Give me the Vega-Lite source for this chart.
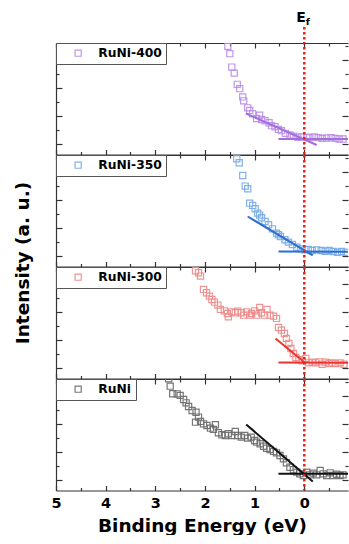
{
  "$schema": "https://vega.github.io/schema/vega-lite/v6.json",
  "padding": {"left": 13, "top": 10, "right": 0, "bottom": 0},
  "config": {"view": {"stroke": null}, "axis": {"grid": false}, "font": "DejaVu Sans"},
  "spacing": 0,
  "bounds": "flush",
  "resolve": {"scale": {"color": "independent"}, "legend": {"color": "independent"}},
  "datasets": {
    "ef": [{"energy": 0, "label": "E", "sub": "f"}],
    "fits": [
      {"s": "RuNi-400", "x": 1.18, "y": 2.21, "x2": -0.25, "y2": -0.04},
      {"s": "RuNi-400", "x": 0.52, "y": 0.39, "x2": -0.9, "y2": 0.39},
      {"s": "RuNi-350", "x": 1.14, "y": 2.85, "x2": -0.17, "y2": 0.07},
      {"s": "RuNi-350", "x": 0.52, "y": 0.35, "x2": -0.9, "y2": 0.33},
      {"s": "RuNi-300", "x": 0.58, "y": 2.14, "x2": -0.02, "y2": 0.38},
      {"s": "RuNi-300", "x": 0.52, "y": 0.42, "x2": -0.9, "y2": 0.4},
      {"s": "RuNi", "x": 1.17, "y": 3.99, "x2": -0.17, "y2": -0.08},
      {"s": "RuNi", "x": 0.52, "y": 0.47, "x2": -0.9, "y2": 0.47}
    ],
    "pts": [
      {"s": "RuNi-400", "x": 1.54, "y": 7.0},
      {"s": "RuNi-400", "x": 1.5, "y": 6.48},
      {"s": "RuNi-400", "x": 1.46, "y": 5.52},
      {"s": "RuNi-400", "x": 1.41, "y": 5.09},
      {"s": "RuNi-400", "x": 1.35, "y": 4.29},
      {"s": "RuNi-400", "x": 1.3, "y": 3.98},
      {"s": "RuNi-400", "x": 1.24, "y": 3.39},
      {"s": "RuNi-400", "x": 1.22, "y": 3.11},
      {"s": "RuNi-400", "x": 1.14, "y": 2.61},
      {"s": "RuNi-400", "x": 1.1, "y": 2.42},
      {"s": "RuNi-400", "x": 1.04, "y": 2.19},
      {"s": "RuNi-400", "x": 0.96, "y": 1.85},
      {"s": "RuNi-400", "x": 0.9, "y": 2.09},
      {"s": "RuNi-400", "x": 0.86, "y": 1.78},
      {"s": "RuNi-400", "x": 0.79, "y": 1.69},
      {"s": "RuNi-400", "x": 0.71, "y": 1.55},
      {"s": "RuNi-400", "x": 0.66, "y": 1.34},
      {"s": "RuNi-400", "x": 0.59, "y": 1.26},
      {"s": "RuNi-400", "x": 0.52, "y": 1.07},
      {"s": "RuNi-400", "x": 0.46, "y": 0.98},
      {"s": "RuNi-400", "x": 0.38, "y": 0.79},
      {"s": "RuNi-400", "x": 0.29, "y": 0.67},
      {"s": "RuNi-400", "x": 0.22, "y": 0.58},
      {"s": "RuNi-400", "x": 0.13, "y": 0.51},
      {"s": "RuNi-400", "x": 0.05, "y": 0.53},
      {"s": "RuNi-400", "x": -0.05, "y": 0.51},
      {"s": "RuNi-400", "x": -0.11, "y": 0.48},
      {"s": "RuNi-400", "x": -0.2, "y": 0.53},
      {"s": "RuNi-400", "x": -0.28, "y": 0.48},
      {"s": "RuNi-400", "x": -0.36, "y": 0.43},
      {"s": "RuNi-400", "x": -0.45, "y": 0.46},
      {"s": "RuNi-400", "x": -0.54, "y": 0.48},
      {"s": "RuNi-400", "x": -0.62, "y": 0.43},
      {"s": "RuNi-400", "x": -0.7, "y": 0.39},
      {"s": "RuNi-400", "x": -0.78, "y": 0.39},
      {"s": "RuNi-350", "x": 1.36, "y": 6.97},
      {"s": "RuNi-350", "x": 1.31, "y": 6.69},
      {"s": "RuNi-350", "x": 1.24, "y": 5.78},
      {"s": "RuNi-350", "x": 1.19, "y": 5.02},
      {"s": "RuNi-350", "x": 1.14, "y": 4.83},
      {"s": "RuNi-350", "x": 1.1, "y": 3.8},
      {"s": "RuNi-350", "x": 1.04, "y": 3.64},
      {"s": "RuNi-350", "x": 0.99, "y": 3.4},
      {"s": "RuNi-350", "x": 0.94, "y": 3.09},
      {"s": "RuNi-350", "x": 0.9, "y": 2.95},
      {"s": "RuNi-350", "x": 0.86, "y": 2.76},
      {"s": "RuNi-350", "x": 0.79, "y": 2.49},
      {"s": "RuNi-350", "x": 0.72, "y": 2.26},
      {"s": "RuNi-350", "x": 0.64, "y": 1.97},
      {"s": "RuNi-350", "x": 0.56, "y": 1.66},
      {"s": "RuNi-350", "x": 0.52, "y": 1.55},
      {"s": "RuNi-350", "x": 0.48, "y": 1.42},
      {"s": "RuNi-350", "x": 0.39, "y": 1.19},
      {"s": "RuNi-350", "x": 0.32, "y": 1.02},
      {"s": "RuNi-350", "x": 0.24, "y": 0.85},
      {"s": "RuNi-350", "x": 0.15, "y": 0.66},
      {"s": "RuNi-350", "x": 0.07, "y": 0.54},
      {"s": "RuNi-350", "x": -0.01, "y": 0.47},
      {"s": "RuNi-350", "x": -0.08, "y": 0.49},
      {"s": "RuNi-350", "x": -0.16, "y": 0.42},
      {"s": "RuNi-350", "x": -0.25, "y": 0.47},
      {"s": "RuNi-350", "x": -0.34, "y": 0.42},
      {"s": "RuNi-350", "x": -0.42, "y": 0.37},
      {"s": "RuNi-350", "x": -0.5, "y": 0.42},
      {"s": "RuNi-350", "x": -0.58, "y": 0.35},
      {"s": "RuNi-350", "x": -0.67, "y": 0.3},
      {"s": "RuNi-350", "x": -0.75, "y": 0.35},
      {"s": "RuNi-350", "x": -0.84, "y": 0.3},
      {"s": "RuNi-300", "x": 2.19, "y": 6.97},
      {"s": "RuNi-300", "x": 2.13, "y": 6.83},
      {"s": "RuNi-300", "x": 2.09, "y": 6.59},
      {"s": "RuNi-300", "x": 2.03, "y": 5.64},
      {"s": "RuNi-300", "x": 1.97, "y": 5.4},
      {"s": "RuNi-300", "x": 1.91, "y": 5.16},
      {"s": "RuNi-300", "x": 1.86, "y": 4.92},
      {"s": "RuNi-300", "x": 1.81, "y": 4.73},
      {"s": "RuNi-300", "x": 1.74, "y": 4.52},
      {"s": "RuNi-300", "x": 1.69, "y": 4.21},
      {"s": "RuNi-300", "x": 1.61, "y": 4.11},
      {"s": "RuNi-300", "x": 1.55, "y": 3.92},
      {"s": "RuNi-300", "x": 1.53, "y": 3.68},
      {"s": "RuNi-300", "x": 1.46, "y": 4.04},
      {"s": "RuNi-300", "x": 1.39, "y": 3.97},
      {"s": "RuNi-300", "x": 1.34, "y": 4.09},
      {"s": "RuNi-300", "x": 1.27, "y": 3.97},
      {"s": "RuNi-300", "x": 1.22, "y": 3.8},
      {"s": "RuNi-300", "x": 1.16, "y": 4.04},
      {"s": "RuNi-300", "x": 1.1, "y": 3.8},
      {"s": "RuNi-300", "x": 1.06, "y": 3.92},
      {"s": "RuNi-300", "x": 1.0, "y": 4.11},
      {"s": "RuNi-300", "x": 0.96, "y": 3.8},
      {"s": "RuNi-300", "x": 0.9, "y": 4.35},
      {"s": "RuNi-300", "x": 0.86, "y": 3.97},
      {"s": "RuNi-300", "x": 0.8, "y": 3.8},
      {"s": "RuNi-300", "x": 0.75, "y": 4.21},
      {"s": "RuNi-300", "x": 0.69, "y": 3.8},
      {"s": "RuNi-300", "x": 0.62, "y": 3.73},
      {"s": "RuNi-300", "x": 0.56, "y": 3.57},
      {"s": "RuNi-300", "x": 0.52, "y": 2.92},
      {"s": "RuNi-300", "x": 0.46, "y": 2.73},
      {"s": "RuNi-300", "x": 0.4, "y": 2.49},
      {"s": "RuNi-300", "x": 0.36, "y": 2.14},
      {"s": "RuNi-300", "x": 0.31, "y": 1.78},
      {"s": "RuNi-300", "x": 0.27, "y": 1.42},
      {"s": "RuNi-300", "x": 0.22, "y": 1.07},
      {"s": "RuNi-300", "x": 0.17, "y": 0.78},
      {"s": "RuNi-300", "x": 0.11, "y": 0.64},
      {"s": "RuNi-300", "x": 0.04, "y": 0.54},
      {"s": "RuNi-300", "x": -0.03, "y": 0.71},
      {"s": "RuNi-300", "x": -0.09, "y": 0.4},
      {"s": "RuNi-300", "x": -0.16, "y": 0.45},
      {"s": "RuNi-300", "x": -0.23, "y": 0.4},
      {"s": "RuNi-300", "x": -0.3, "y": 0.47},
      {"s": "RuNi-300", "x": -0.36, "y": 0.3},
      {"s": "RuNi-300", "x": -0.43, "y": 0.45},
      {"s": "RuNi-300", "x": -0.5, "y": 0.35},
      {"s": "RuNi-300", "x": -0.56, "y": 0.4},
      {"s": "RuNi-300", "x": -0.63, "y": 0.35},
      {"s": "RuNi-300", "x": -0.72, "y": 0.4},
      {"s": "RuNi-300", "x": -0.8, "y": 0.3},
      {"s": "RuNi", "x": 2.73, "y": 7.26},
      {"s": "RuNi", "x": 2.7, "y": 6.73},
      {"s": "RuNi", "x": 2.65, "y": 6.19},
      {"s": "RuNi", "x": 2.56, "y": 6.18},
      {"s": "RuNi", "x": 2.5, "y": 6.07},
      {"s": "RuNi", "x": 2.43, "y": 5.78},
      {"s": "RuNi", "x": 2.38, "y": 5.54},
      {"s": "RuNi", "x": 2.33, "y": 5.28},
      {"s": "RuNi", "x": 2.26, "y": 4.99},
      {"s": "RuNi", "x": 2.18, "y": 4.87},
      {"s": "RuNi", "x": 2.13, "y": 4.52},
      {"s": "RuNi", "x": 2.19, "y": 4.16},
      {"s": "RuNi", "x": 2.09, "y": 4.21},
      {"s": "RuNi", "x": 2.03, "y": 4.04},
      {"s": "RuNi", "x": 1.96, "y": 3.92},
      {"s": "RuNi", "x": 1.89, "y": 3.73},
      {"s": "RuNi", "x": 1.79, "y": 3.97},
      {"s": "RuNi", "x": 1.83, "y": 3.64},
      {"s": "RuNi", "x": 1.73, "y": 3.4},
      {"s": "RuNi", "x": 1.66, "y": 3.26},
      {"s": "RuNi", "x": 1.59, "y": 3.21},
      {"s": "RuNi", "x": 1.53, "y": 3.33},
      {"s": "RuNi", "x": 1.46, "y": 3.21},
      {"s": "RuNi", "x": 1.39, "y": 3.49},
      {"s": "RuNi", "x": 1.34, "y": 3.21},
      {"s": "RuNi", "x": 1.27, "y": 3.09},
      {"s": "RuNi", "x": 1.2, "y": 3.21},
      {"s": "RuNi", "x": 1.14, "y": 3.02},
      {"s": "RuNi", "x": 1.07, "y": 3.09},
      {"s": "RuNi", "x": 1.0, "y": 2.85},
      {"s": "RuNi", "x": 0.96, "y": 2.73},
      {"s": "RuNi", "x": 0.89, "y": 2.62},
      {"s": "RuNi", "x": 0.82, "y": 2.44},
      {"s": "RuNi", "x": 0.76, "y": 2.3},
      {"s": "RuNi", "x": 0.69, "y": 2.21},
      {"s": "RuNi", "x": 0.62, "y": 2.07},
      {"s": "RuNi", "x": 0.56, "y": 1.97},
      {"s": "RuNi", "x": 0.49, "y": 1.78},
      {"s": "RuNi", "x": 0.42, "y": 1.54},
      {"s": "RuNi", "x": 0.36, "y": 1.26},
      {"s": "RuNi", "x": 0.29, "y": 0.94},
      {"s": "RuNi", "x": 0.22, "y": 0.76},
      {"s": "RuNi", "x": 0.15, "y": 0.59},
      {"s": "RuNi", "x": 0.09, "y": 0.47},
      {"s": "RuNi", "x": 0.02, "y": 0.35},
      {"s": "RuNi", "x": -0.05, "y": 0.59},
      {"s": "RuNi", "x": -0.11, "y": 0.4},
      {"s": "RuNi", "x": -0.18, "y": 0.52},
      {"s": "RuNi", "x": -0.25, "y": 0.4},
      {"s": "RuNi", "x": -0.32, "y": 0.71},
      {"s": "RuNi", "x": -0.38, "y": 0.47},
      {"s": "RuNi", "x": -0.45, "y": 0.35},
      {"s": "RuNi", "x": -0.52, "y": 0.54},
      {"s": "RuNi", "x": -0.58, "y": 0.35},
      {"s": "RuNi", "x": -0.65, "y": 0.44},
      {"s": "RuNi", "x": -0.72, "y": 0.35},
      {"s": "RuNi", "x": -0.78, "y": 0.4}
    ]
  },
  "vconcat": [
    {
      "width": 292, "height": 111.5,
      "resolve": {"axis": {"x": "independent", "y": "independent"}},
      "layer": [
        {
          "data": {"name": "pts"}, "transform": [{"filter": "datum.s === 'RuNi-400'"}],
          "mark": {"type": "point", "shape": "square", "filled": false, "size": 38, "strokeWidth": 1.2, "opacity": 0.9, "clip": true},
          "encoding": {
            "x": {"field": "x", "type": "quantitative", "scale": {"domain": [5, -0.88], "nice": false, "zero": false},
              "axis": {"orient": "bottom", "values": [5, 4.5, 4, 3.5, 3, 2.5, 2, 1.5, 1, 0.5, 0, -0.5], "labels": false, "title": null, "domainColor": "#333", "domainWidth": 1.2, "tickColor": "#333", "tickWidth": 1.2, "tickSize": {"condition": {"test": "datum.value % 1 === 0", "value": -5}, "value": -3}}},
            "y": {"field": "y", "type": "quantitative", "scale": {"domain": [-0.72, 7.24], "nice": false, "zero": false},
              "axis": {"orient": "left", "values": [0, 1, 2, 3, 4, 5, 6, 7], "labels": false, "title": null, "domainColor": "#333", "domainWidth": 1.2, "tickColor": "#333", "tickWidth": 1.2, "tickSize": {"condition": {"test": "datum.value % 2 === 0", "value": -6}, "value": -3}}},
            "color": {"field": "s", "type": "nominal", "scale": {"range": ["#b98fe6"]},
              "legend": {"title": null, "orient": "top-left", "offset": 0, "padding": 4, "strokeColor": "#555", "fillColor": "white", "symbolType": "square", "symbolSize": 38, "symbolStrokeWidth": 1.2, "symbolOffset": 12, "labelOffset": 14, "labelFont": "DejaVu Sans", "labelFontWeight": "bold", "labelFontSize": 12.3, "labelColor": "black", "cornerRadius": 0}}
          }
        },
        {
          "data": {"name": "fits"}, "transform": [{"filter": "datum.s === 'RuNi-400'"}],
          "mark": {"type": "rule", "color": "#a46ddc", "strokeWidth": 2, "clip": true},
          "encoding": {
            "x": {"field": "x", "type": "quantitative",
              "axis": {"orient": "top", "values": [5, 4.5, 4, 3.5, 3, 2.5, 2, 1.5, 1, 0.5, 0, -0.5], "labels": false, "title": null, "domainColor": "#333", "domainWidth": 1.2, "tickColor": "#333", "tickWidth": 1.2, "tickSize": {"condition": {"test": "datum.value % 1 === 0", "value": -5}, "value": -3}}},
            "x2": {"field": "x2"},
            "y": {"field": "y", "type": "quantitative",
              "axis": {"orient": "right", "values": [0, 1, 2, 3, 4, 5, 6, 7], "labels": false, "title": null, "domain": false, "tickColor": "#333", "tickWidth": 1.2, "tickSize": {"condition": {"test": "datum.value % 2 === 0", "value": -6}, "value": -3}}},
            "y2": {"field": "y2"}
          }
        },
        {
          "data": {"name": "ef"},
          "mark": {"type": "rule", "color": "#e8211d", "strokeWidth": 2.5, "strokeDash": [2.5, 2.5], "clip": false},
          "encoding": {
            "x": {"field": "energy", "type": "quantitative", "axis": null},
            "y": {"datum": -0.72, "axis": null},
            "y2": {"datum": 8.38}
          }
        },
        {
          "data": {"name": "ef"},
          "mark": {"type": "text", "align": "right", "baseline": "alphabetic", "dx": 1.5, "fontSize": 14, "fontWeight": "bold", "font": "DejaVu Sans", "color": "black"},
          "encoding": {
            "x": {"field": "energy", "type": "quantitative", "axis": null},
            "y": {"datum": 8.76, "axis": null},
            "text": {"field": "label"}
          }
        },
        {
          "data": {"name": "ef"},
          "mark": {"type": "text", "align": "left", "baseline": "alphabetic", "dx": 1.5, "fontSize": 9.5, "fontWeight": "bold", "font": "DejaVu Sans", "color": "black"},
          "encoding": {
            "x": {"field": "energy", "type": "quantitative", "axis": null},
            "y": {"datum": 8.53, "axis": null},
            "text": {"field": "sub"}
          }
        }
      ]
    },
    {
      "width": 292, "height": 111.5,
      "resolve": {"axis": {"x": "independent", "y": "independent"}},
      "layer": [
        {
          "data": {"name": "pts"}, "transform": [{"filter": "datum.s === 'RuNi-350'"}],
          "mark": {"type": "point", "shape": "square", "filled": false, "size": 38, "strokeWidth": 1.2, "opacity": 0.9, "clip": true},
          "encoding": {
            "x": {"field": "x", "type": "quantitative", "scale": {"domain": [5, -0.88], "nice": false, "zero": false},
              "axis": {"orient": "bottom", "values": [5, 4.5, 4, 3.5, 3, 2.5, 2, 1.5, 1, 0.5, 0, -0.5], "labels": false, "title": null, "domainColor": "#333", "domainWidth": 1.2, "tickColor": "#333", "tickWidth": 1.2, "tickSize": {"condition": {"test": "datum.value % 1 === 0", "value": -5}, "value": -3}}},
            "y": {"field": "y", "type": "quantitative", "scale": {"domain": [-0.72, 7.24], "nice": false, "zero": false},
              "axis": {"orient": "left", "values": [0, 1, 2, 3, 4, 5, 6, 7], "labels": false, "title": "Intensity (a. u.)", "titleFont": "DejaVu Sans", "titleFontWeight": "bold", "titleFontSize": 18.5, "titleColor": "black", "titleAngle": -90, "titleAlign": "center", "titleBaseline": "alphabetic", "titleX": -27.5, "titleY": 107.5, "domainColor": "#333", "domainWidth": 1.2, "tickColor": "#333", "tickWidth": 1.2, "tickSize": {"condition": {"test": "datum.value % 2 === 0", "value": -6}, "value": -3}}},
            "color": {"field": "s", "type": "nominal", "scale": {"range": ["#78aae6"]},
              "legend": {"title": null, "orient": "top-left", "offset": 0, "padding": 4, "strokeColor": "#555", "fillColor": "white", "symbolType": "square", "symbolSize": 38, "symbolStrokeWidth": 1.2, "symbolOffset": 12, "labelOffset": 14, "labelFont": "DejaVu Sans", "labelFontWeight": "bold", "labelFontSize": 12.3, "labelColor": "black", "cornerRadius": 0}}
          }
        },
        {
          "data": {"name": "fits"}, "transform": [{"filter": "datum.s === 'RuNi-350'"}],
          "mark": {"type": "rule", "color": "#2b6fd0", "strokeWidth": 2, "clip": true},
          "encoding": {
            "x": {"field": "x", "type": "quantitative",
              "axis": {"orient": "top", "values": [5, 4.5, 4, 3.5, 3, 2.5, 2, 1.5, 1, 0.5, 0, -0.5], "labels": false, "title": null, "domainColor": "#333", "domainWidth": 1.2, "tickColor": "#333", "tickWidth": 1.2, "tickSize": {"condition": {"test": "datum.value % 1 === 0", "value": -5}, "value": -3}}},
            "x2": {"field": "x2"},
            "y": {"field": "y", "type": "quantitative",
              "axis": {"orient": "right", "values": [0, 1, 2, 3, 4, 5, 6, 7], "labels": false, "title": null, "domain": false, "tickColor": "#333", "tickWidth": 1.2, "tickSize": {"condition": {"test": "datum.value % 2 === 0", "value": -6}, "value": -3}}},
            "y2": {"field": "y2"}
          }
        },
        {
          "data": {"name": "ef"},
          "mark": {"type": "rule", "color": "#e8211d", "strokeWidth": 2.5, "strokeDash": [2.5, 2.5]},
          "encoding": {"x": {"field": "energy", "type": "quantitative", "axis": null}}
        }
      ]
    },
    {
      "width": 292, "height": 111.5,
      "resolve": {"axis": {"x": "independent", "y": "independent"}},
      "layer": [
        {
          "data": {"name": "pts"}, "transform": [{"filter": "datum.s === 'RuNi-300'"}],
          "mark": {"type": "point", "shape": "square", "filled": false, "size": 38, "strokeWidth": 1.2, "opacity": 0.9, "clip": true},
          "encoding": {
            "x": {"field": "x", "type": "quantitative", "scale": {"domain": [5, -0.88], "nice": false, "zero": false},
              "axis": {"orient": "bottom", "values": [5, 4.5, 4, 3.5, 3, 2.5, 2, 1.5, 1, 0.5, 0, -0.5], "labels": false, "title": null, "domainColor": "#333", "domainWidth": 1.2, "tickColor": "#333", "tickWidth": 1.2, "tickSize": {"condition": {"test": "datum.value % 1 === 0", "value": -5}, "value": -3}}},
            "y": {"field": "y", "type": "quantitative", "scale": {"domain": [-0.72, 7.24], "nice": false, "zero": false},
              "axis": {"orient": "left", "values": [0, 1, 2, 3, 4, 5, 6, 7], "labels": false, "title": null, "domainColor": "#333", "domainWidth": 1.2, "tickColor": "#333", "tickWidth": 1.2, "tickSize": {"condition": {"test": "datum.value % 2 === 0", "value": -6}, "value": -3}}},
            "color": {"field": "s", "type": "nominal", "scale": {"range": ["#ee8a8a"]},
              "legend": {"title": null, "orient": "top-left", "offset": 0, "padding": 4, "strokeColor": "#555", "fillColor": "white", "symbolType": "square", "symbolSize": 38, "symbolStrokeWidth": 1.2, "symbolOffset": 12, "labelOffset": 14, "labelFont": "DejaVu Sans", "labelFontWeight": "bold", "labelFontSize": 12.3, "labelColor": "black", "cornerRadius": 0}}
          }
        },
        {
          "data": {"name": "fits"}, "transform": [{"filter": "datum.s === 'RuNi-300'"}],
          "mark": {"type": "rule", "color": "#e8352f", "strokeWidth": 2, "clip": true},
          "encoding": {
            "x": {"field": "x", "type": "quantitative",
              "axis": {"orient": "top", "values": [5, 4.5, 4, 3.5, 3, 2.5, 2, 1.5, 1, 0.5, 0, -0.5], "labels": false, "title": null, "domainColor": "#333", "domainWidth": 1.2, "tickColor": "#333", "tickWidth": 1.2, "tickSize": {"condition": {"test": "datum.value % 1 === 0", "value": -5}, "value": -3}}},
            "x2": {"field": "x2"},
            "y": {"field": "y", "type": "quantitative",
              "axis": {"orient": "right", "values": [0, 1, 2, 3, 4, 5, 6, 7], "labels": false, "title": null, "domain": false, "tickColor": "#333", "tickWidth": 1.2, "tickSize": {"condition": {"test": "datum.value % 2 === 0", "value": -6}, "value": -3}}},
            "y2": {"field": "y2"}
          }
        },
        {
          "data": {"name": "ef"},
          "mark": {"type": "rule", "color": "#e8211d", "strokeWidth": 2.5, "strokeDash": [2.5, 2.5]},
          "encoding": {"x": {"field": "energy", "type": "quantitative", "axis": null}}
        }
      ]
    },
    {
      "width": 292, "height": 111.5,
      "resolve": {"axis": {"x": "independent", "y": "independent"}},
      "layer": [
        {
          "data": {"name": "pts"}, "transform": [{"filter": "datum.s === 'RuNi'"}],
          "mark": {"type": "point", "shape": "square", "filled": false, "size": 38, "strokeWidth": 1.2, "opacity": 0.9, "clip": true},
          "encoding": {
            "x": {"field": "x", "type": "quantitative", "scale": {"domain": [5, -0.88], "nice": false, "zero": false},
              "axis": {"orient": "bottom", "values": [5, 4.5, 4, 3.5, 3, 2.5, 2, 1.5, 1, 0.5, 0, -0.5], "labelExpr": "abs(datum.value % 1) < 0.01 ? format(datum.value, 'd') : ''", "labelFont": "DejaVu Sans", "labelFontWeight": "bold", "labelFontSize": 14.5, "labelColor": "black", "labelFlush": false, "labelOverlap": false, "labelPadding": 11, "title": "Binding Energy (eV)", "titleFont": "DejaVu Sans", "titleFontWeight": "bold", "titleFontSize": 18.5, "titleColor": "black", "titlePadding": 4, "domainColor": "#333", "domainWidth": 1.2, "tickColor": "#333", "tickWidth": 1.2, "tickSize": {"condition": {"test": "datum.value % 1 === 0", "value": -5}, "value": -3}}},
            "y": {"field": "y", "type": "quantitative", "scale": {"domain": [-0.72, 7.24], "nice": false, "zero": false},
              "axis": {"orient": "left", "values": [0, 1, 2, 3, 4, 5, 6, 7], "labels": false, "title": null, "domainColor": "#333", "domainWidth": 1.2, "tickColor": "#333", "tickWidth": 1.2, "tickSize": {"condition": {"test": "datum.value % 2 === 0", "value": -6}, "value": -3}}},
            "color": {"field": "s", "type": "nominal", "scale": {"range": ["#6a6a6a"]},
              "legend": {"title": null, "orient": "top-left", "offset": 0, "padding": 4, "strokeColor": "#555", "fillColor": "white", "symbolType": "square", "symbolSize": 38, "symbolStrokeWidth": 1.2, "symbolOffset": 12, "labelOffset": 14, "labelFont": "DejaVu Sans", "labelFontWeight": "bold", "labelFontSize": 12.3, "labelColor": "black", "cornerRadius": 0}}
          }
        },
        {
          "data": {"name": "fits"}, "transform": [{"filter": "datum.s === 'RuNi'"}],
          "mark": {"type": "rule", "color": "#111111", "strokeWidth": 2, "clip": true},
          "encoding": {
            "x": {"field": "x", "type": "quantitative",
              "axis": {"orient": "top", "values": [5, 4.5, 4, 3.5, 3, 2.5, 2, 1.5, 1, 0.5, 0, -0.5], "labels": false, "title": null, "domainColor": "#333", "domainWidth": 1.2, "tickColor": "#333", "tickWidth": 1.2, "tickSize": {"condition": {"test": "datum.value % 1 === 0", "value": -5}, "value": -3}}},
            "x2": {"field": "x2"},
            "y": {"field": "y", "type": "quantitative",
              "axis": {"orient": "right", "values": [0, 1, 2, 3, 4, 5, 6, 7], "labels": false, "title": null, "domain": false, "tickColor": "#333", "tickWidth": 1.2, "tickSize": {"condition": {"test": "datum.value % 2 === 0", "value": -6}, "value": -3}}},
            "y2": {"field": "y2"}
          }
        },
        {
          "data": {"name": "ef"},
          "mark": {"type": "rule", "color": "#e8211d", "strokeWidth": 2.5, "strokeDash": [2.5, 2.5]},
          "encoding": {"x": {"field": "energy", "type": "quantitative", "axis": null}}
        }
      ]
    }
  ]
}
